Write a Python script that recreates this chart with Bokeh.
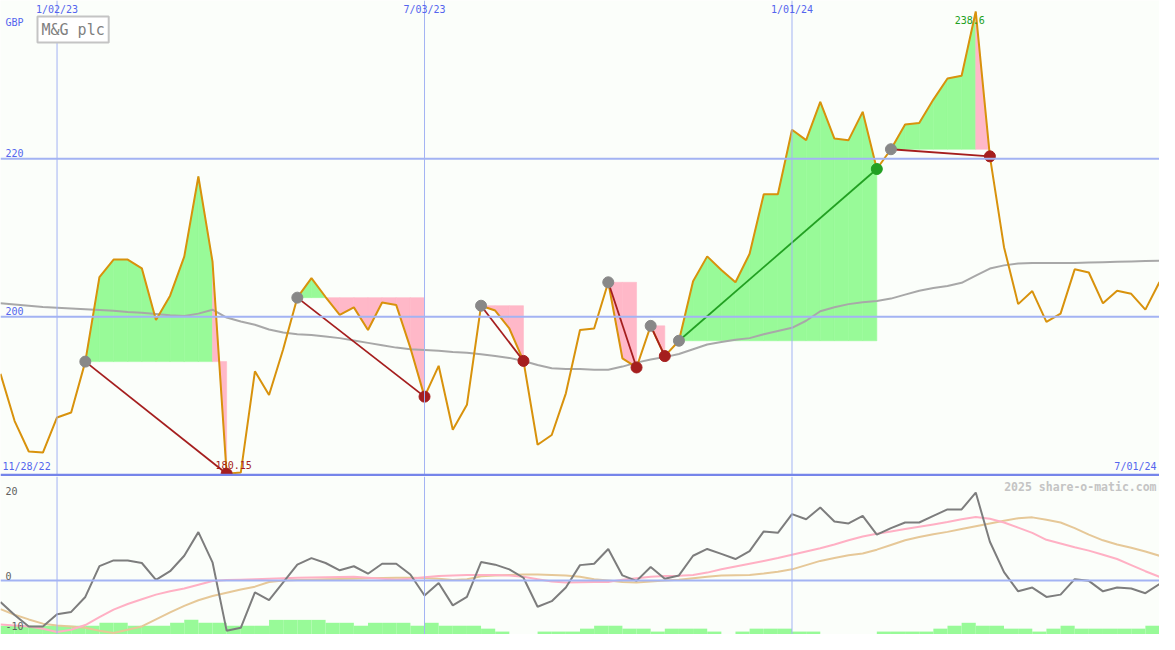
import numpy as np
from bokeh.plotting import figure
from bokeh.models import Range1d, Span, Label
from bokeh.layouts import column
from bokeh.embed import file_html
from bokeh.resources import INLINE

# ---------------- data (weekly, index 0 = first week shown) ----------------
weeks = list(range(83))

price = [192.78, 186.81, 182.96, 182.83, 187.27, 187.89, 194.33, 205.01, 207.23, 207.23,
         206.12, 199.59, 202.67, 207.60, 217.74, 206.98, 180.15, 180.30, 193.10, 190.11,
         195.90, 202.42, 204.89, 202.50, 200.24, 201.19, 198.32, 201.81, 201.48, 196.06,
         189.90, 193.80, 185.71, 188.87, 201.40, 200.79, 198.52, 194.42, 183.82, 185.05,
         190.32, 198.32, 198.52, 204.36, 194.75, 193.59, 198.85, 195.03, 196.97, 204.48,
         207.64, 205.91, 204.36, 207.97, 215.49, 215.49, 223.65, 222.34, 227.19, 222.54,
         222.34, 225.92, 218.69, 221.19, 224.32, 224.52, 227.47, 230.14, 230.48, 238.60,
         220.29, 208.80, 201.60, 203.25, 199.35, 200.40, 206.00, 205.60, 201.70, 203.30,
         202.90, 200.90, 204.40]

moving_avg = [201.7, 201.55, 201.4, 201.25, 201.15, 201.05, 200.95, 200.85, 200.75, 200.6,
              200.5, 200.35, 200.2, 200.1, 200.4, 200.9, 199.9, 199.4, 199.0, 198.4,
              198.0, 197.8, 197.7, 197.5, 197.3, 197.0, 196.7, 196.4, 196.1, 195.9,
              195.8, 195.7, 195.55, 195.45, 195.25, 195.05, 194.8, 194.4, 193.9, 193.5,
              193.4, 193.4, 193.3, 193.3, 193.7, 194.2, 194.6, 194.9, 195.3, 195.9,
              196.5, 196.8, 197.1, 197.3, 197.8, 198.2, 198.6, 199.5, 200.7, 201.2,
              201.6, 201.85, 202.0, 202.3, 202.8, 203.3, 203.65, 203.9, 204.3, 205.2,
              206.1, 206.5, 206.75, 206.8, 206.8, 206.8, 206.8, 206.85, 206.9, 206.95,
              207.0, 207.05, 207.1]

buy_idx = [6, 21, 34, 43, 46, 48, 63]
sell_idx = [16, 30, 37, 45, 47, 62, 70]

oscillator = [-4.6, -7.35, -9.8, -9.8, -7.2, -6.7, -3.5, 3.1, 4.3, 4.3,
              3.75, 0.15, 2.0, 5.3, 10.35, 3.9, -10.7, -10.1, -2.5, -4.2,
              -0.4, 3.4, 4.8, 3.75, 2.2, 3.06, 1.46, 3.6, 3.6, 1.3,
              -3.2, -0.5, -5.3, -3.5, 3.96, 3.4, 2.4, 0.6, -5.6, -4.4,
              -1.5, 3.3, 3.6, 6.75, 1.1, -0.06, 2.9, 0.4, 1.1, 5.3,
              6.75, 5.7, 4.6, 6.3, 10.5, 10.2, 14.2, 13.1, 15.6, 12.6,
              12.2, 13.8, 9.8, 11.2, 12.4, 12.4, 13.8, 15.2, 15.2, 18.8,
              8.3, 1.8, -2.3, -1.5, -3.5, -3.0, 0.3, -0.06, -2.3, -1.5,
              -1.7, -2.7, -0.75]

signal_fast = [-9.4, -9.6, -9.8, -10.3, -11.0, -10.5, -9.5, -7.8, -6.2, -5.0,
               -4.0, -3.0, -2.3, -1.7, -0.9, -0.1, 0.1, 0.2, 0.3, 0.4,
               0.5, 0.6, 0.65, 0.7, 0.75, 0.8, 0.6, 0.4, 0.2, 0.4,
               0.7, 1.0, 1.1, 1.2, 1.2, 1.2, 1.1, 0.8, 0.3, -0.2,
               -0.4, -0.35, -0.3, -0.3, 0.2, 0.5, 0.8, 1.0, 1.05, 1.2,
               1.7, 2.4, 3.0, 3.6, 4.2, 4.8, 5.5, 6.2, 6.9, 7.7,
               8.6, 9.4, 10.0, 10.5, 11.0, 11.5, 12.0, 12.5, 13.1, 13.6,
               13.2, 12.4, 11.3, 10.2, 8.7, 7.9, 7.1, 6.4, 5.5, 4.6,
               3.3, 2.0, 0.8]

signal_slow = [-6.1, -7.3, -8.3, -9.2, -9.6, -9.8, -10.1, -10.7, -11.2, -10.5,
               -9.8, -8.3, -6.8, -5.4, -4.2, -3.3, -2.6, -1.9, -1.3, -0.3,
               0.0, 0.1, 0.2, 0.3, 0.35, 0.4, 0.5, 0.55, 0.6, 0.6,
               0.55, 0.4, 0.1, 0.3, 0.9, 1.1, 1.2, 1.3, 1.3, 1.2,
               1.1, 0.8, 0.3, 0.0, -0.3, -0.4, -0.2, 0.0, 0.2, 0.5,
               0.8, 1.1, 1.15, 1.2, 1.5, 1.9, 2.4, 3.3, 4.2, 4.8,
               5.4, 5.8, 6.6, 7.6, 8.6, 9.3, 9.9, 10.4, 11.0, 11.6,
               12.2, 12.8, 13.3, 13.5, 13.0, 12.4, 11.2, 9.8, 8.6, 7.7,
               7.0, 6.2, 5.3]

volume_level = [3, 3, 3, 3, 3, 3, 3, 4, 4, 3,
                3, 3, 4, 5, 4, 4, 3, 3, 3, 5,
                5, 5, 5, 4, 4, 3, 4, 4, 4, 3,
                4, 3, 3, 3, 2, 1, 0, 0, 1, 1,
                1, 2, 3, 3, 2, 2, 1, 2, 2, 2,
                1, 0, 1, 2, 2, 2, 1, 1, 0, 0,
                0, 0, 1, 1, 1, 1, 2, 3, 4, 3,
                3, 2, 2, 1, 2, 3, 2, 2, 2, 2,
                2, 3, 3]

date_ticks = [4, 30, 56]
date_labels = ["1/02/23", "7/03/23", "1/01/24"]
start_label = "11/28/22"
end_label = "7/01/24"
price_ticks = [200, 220]
osc_ticks = [20, 0, -10]
title = "M&G plc"
watermark = "2025 share-o-matic.com"
currency = "GBP"

# ---------------- styles ----------------
BG = "#FBFEFA"
GRID = "#A3B3F3"
AXIS_DARK = "#7585EA"
TXT_BLUE = "#5465EE"
PRICE_COL = "#D8920C"
MA_COL = "#A8A8A8"
GREEN_FILL = "#98FA98"
PINK_FILL = "#FFB8C8"
LOSS = "#A51E1E"
WIN = "#22A022"
BUY_COL = "#888888"
OSC_COL = "#7D7D7D"
FAST_COL = "#FFB0C4"
SLOW_COL = "#E6C898"
FONT = "DejaVu Sans Mono"

W = 1159
H1 = 476
H2 = 158
X0, X1 = 0.0, 82.0

# ---------------- main price panel ----------------
p = figure(width=W, height=H1, output_backend="svg", toolbar_location=None,
           x_range=Range1d(X0, X1), y_range=Range1d(179.8, 240.0),
           x_axis_location=None, y_axis_location=None, min_border=0,
           background_fill_color=BG, border_fill_color=BG, outline_line_color=None)
p.xgrid.visible = False
p.ygrid.visible = False

for t in date_ticks:
    p.add_layout(Span(location=t, dimension="height", line_color=GRID, line_width=1))
for t in price_ticks:
    p.add_layout(Span(location=t, dimension="width", line_color=GRID, line_width=2))
p.add_layout(Span(location=180, dimension="width", line_color=AXIS_DARK, line_width=2.5))

# gain / loss fills per trade
xs, ys, cols = [], [], []
for b, s in zip(buy_idx, sell_idx):
    lvl = price[b]
    for k in range(b, s):
        xs.append([weeks[k], weeks[k], weeks[k + 1], weeks[k + 1]])
        ys.append([lvl, price[k], price[k + 1], lvl])
        cols.append(GREEN_FILL if price[k + 1] >= lvl else PINK_FILL)
p.patches(xs, ys, fill_color=cols, line_color=cols, line_width=0.6)

p.line(weeks, moving_avg, line_color=MA_COL, line_width=2)
p.line(weeks, price, line_color=PRICE_COL, line_width=2)

bx = [weeks[i] for i in buy_idx]
by = [price[i] for i in buy_idx]
sx = [weeks[i] for i in sell_idx]
sy = [price[i] for i in sell_idx]
tcol = [WIN if price[s] > price[b] else LOSS for b, s in zip(buy_idx, sell_idx)]
p.segment(x0=bx, y0=by, x1=sx, y1=sy, line_color=tcol, line_width=1.8)
p.scatter(bx, by, size=11, fill_color=BUY_COL, line_color=BUY_COL)
p.scatter(sx, sy, size=11, fill_color=tcol, line_color=tcol)

def fmt(v):
    s = "%.2f" % v
    return s.rstrip("0").rstrip(".") if "." in s else s

imin = int(np.argmin(price))
imax = int(np.argmax(price))
p.add_layout(Label(x=weeks[imin], y=price[imin], text=fmt(price[imin]), x_offset=7, y_offset=5,
                   text_align="center", text_baseline="bottom", text_font=FONT,
                   text_font_size="10px", text_color=LOSS))
p.add_layout(Label(x=weeks[imax], y=price[imax], text=fmt(price[imax]), x_offset=-6, y_offset=-4,
                   text_align="center", text_baseline="top", text_font=FONT,
                   text_font_size="10px", text_color=WIN))

for t, lab in zip(date_ticks, date_labels):
    p.add_layout(Label(x=t, y=240.0, text=lab, y_offset=-3, text_align="center",
                       text_baseline="top", text_font=FONT, text_font_size="10px",
                       text_color=TXT_BLUE))
for t in price_ticks:
    p.add_layout(Label(x=X0, y=t, text=str(t), x_offset=5, y_offset=2, text_align="left",
                       text_baseline="bottom", text_font=FONT, text_font_size="10px",
                       text_color=TXT_BLUE))
p.add_layout(Label(x=X0, y=240.0, text=currency, x_offset=5, y_offset=-16, text_align="left",
                   text_baseline="top", text_font=FONT, text_font_size="10px", text_color=TXT_BLUE))
p.add_layout(Label(x=X0, y=180, text=start_label, x_offset=2, y_offset=3, text_align="left",
                   text_baseline="bottom", text_font=FONT, text_font_size="10px", text_color=TXT_BLUE))
p.add_layout(Label(x=X1, y=180, text=end_label, x_offset=-3, y_offset=3, text_align="right",
                   text_baseline="bottom", text_font=FONT, text_font_size="10px", text_color=TXT_BLUE))
p.add_layout(Label(x=X0, y=240.0, text=title, x_offset=37, y_offset=-29, text_align="left",
                   text_baseline="middle", text_font=FONT, text_font_size="15px",
                   text_color="#808080", border_line_color="#C4C4C4", border_line_width=2,
                   background_fill_color="#FFFFFF", padding=4))

# ---------------- oscillator panel ----------------
q = figure(width=W, height=H2, output_backend="svg", toolbar_location=None,
           x_range=p.x_range, y_range=Range1d(-11.52, 22.23),
           x_axis_location=None, y_axis_location=None, min_border=0,
           background_fill_color=BG, border_fill_color=BG, outline_line_color=None)
q.xgrid.visible = False
q.ygrid.visible = False
q.extra_y_ranges = {"vol": Range1d(0, 54)}

for t in date_ticks:
    q.add_layout(Span(location=t, dimension="height", line_color=GRID, line_width=1))
q.add_layout(Span(location=0, dimension="width", line_color=GRID, line_width=2))

q.vbar(x=[w + 0.5 for w in weeks], width=1.0, top=volume_level, bottom=0,
       y_range_name="vol", fill_color=GREEN_FILL, line_color=None)
q.line(weeks, signal_slow, line_color=SLOW_COL, line_width=2)
q.line(weeks, signal_fast, line_color=FAST_COL, line_width=2)
q.line(weeks, oscillator, line_color=OSC_COL, line_width=2)

for t in osc_ticks:
    q.add_layout(Label(x=X0, y=t, text=str(t), x_offset=5, text_align="left",
                       text_baseline="middle", text_font=FONT, text_font_size="10px",
                       text_color="#606060", y_offset=(-4 if t == 20 else (5 if t == 0 else 1))))
q.add_layout(Label(x=X1, y=22.23, text=watermark, x_offset=-3, y_offset=-3, text_align="right",
                   text_baseline="top", text_font=FONT, text_font_size="11.5px",
                   text_font_style="bold", text_color="#C4C4C4"))

layout = column(p, q, spacing=0)
open("out.html", "w").write(file_html(layout, INLINE))
